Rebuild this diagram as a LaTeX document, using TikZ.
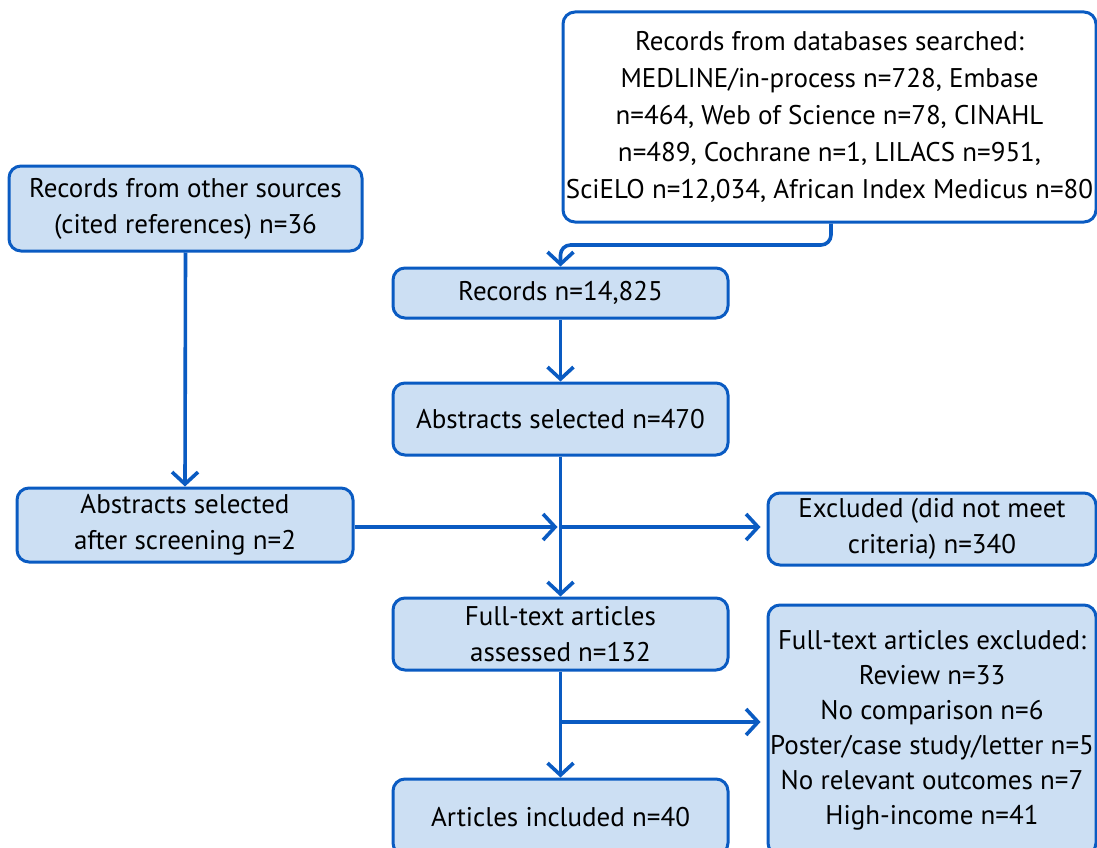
\documentclass[tikz,border=0pt]{standalone}
\usepackage{fontspec}
\setmainfont{PT Sans}
\usetikzlibrary{arrows.meta}
\definecolor{bord}{HTML}{0A5BC2}
\definecolor{boxfill}{HTML}{CCDFF3}
\tikzset{
  box/.style={draw=bord, line width=3pt, fill=boxfill, rounded corners=12pt, align=center, inner sep=0pt,
    font=\fontsize{27}{36}\selectfont},
  wbox/.style={box, fill=white, font=\fontsize{27}{37}\selectfont},
  conn/.style={draw=bord, line width=3.6pt, -{Straight Barb[length=12pt,width=26pt,line width=3.6pt]}}
}
\begin{document}
\begin{tikzpicture}[x=1pt,y=-1pt]
\useasboundingbox (0,0) rectangle (1097,848);
\node[wbox, minimum width=533pt, minimum height=210pt] (db) at (829.5,117) {Records from databases searched:\\MEDLINE/in-process n=728, Embase\\n=464, Web of Science n=78, CINAHL\\n=489, Cochrane n=1, LILACS n=951,\\SciELO n=12,034, African Index Medicus n=80};
\node[box, minimum width=353pt, minimum height=85pt] (oth) at (185.5,208.5) {Records from other sources\\(cited references) n=36};
\node[box, minimum width=335pt, minimum height=50pt] (rec) at (560.5,293) {Records n=14,825};
\node[box, minimum width=335pt, minimum height=72pt] (abs) at (560.5,419) {Abstracts selected n=470};
\node[box, minimum width=336pt, minimum height=74pt] (scr) at (185,525) {Abstracts selected\\after screening n=2};
\node[box, minimum width=328pt, minimum height=72pt] (exc) at (932,529) {Excluded (did not meet\\criteria) n=340};
\node[box, minimum width=335pt, minimum height=72pt] (ft) at (560.5,634) {Full-text articles\\assessed n=132};
\node[box, minimum width=328pt, minimum height=250pt, font=\fontsize{27}{35}\selectfont] (ftx) at (932,730) {Full-text articles excluded:\\Review n=33\\No comparison n=6\\Poster/case study/letter n=5\\No relevant outcomes n=7\\High-income n=41};
\node[box, minimum width=335pt, minimum height=76pt] (art) at (560.5,817) {Articles included n=40};
\coordinate (j1) at (560.5,527);
\coordinate (j2) at (560.5,722);
\draw[conn, rounded corners=10pt] (db.south -| 831,0) -- (831,245) -| (rec.north);
\draw[conn] (oth.south) -- (scr.north);
\draw[conn] (rec.south) -- (abs.north);
\draw[conn] (abs.south) -- (ft.north);
\draw[conn, shorten >=3pt] (scr.east |- j1) -- (j1);
\draw[conn, shorten >=6pt] (j1) -- (j1 -| exc.west);
\draw[conn] (ft.south) -- (art.north);
\draw[conn, shorten >=6pt] (j2) -- (j2 -| ftx.west);
\end{tikzpicture}
\end{document}
